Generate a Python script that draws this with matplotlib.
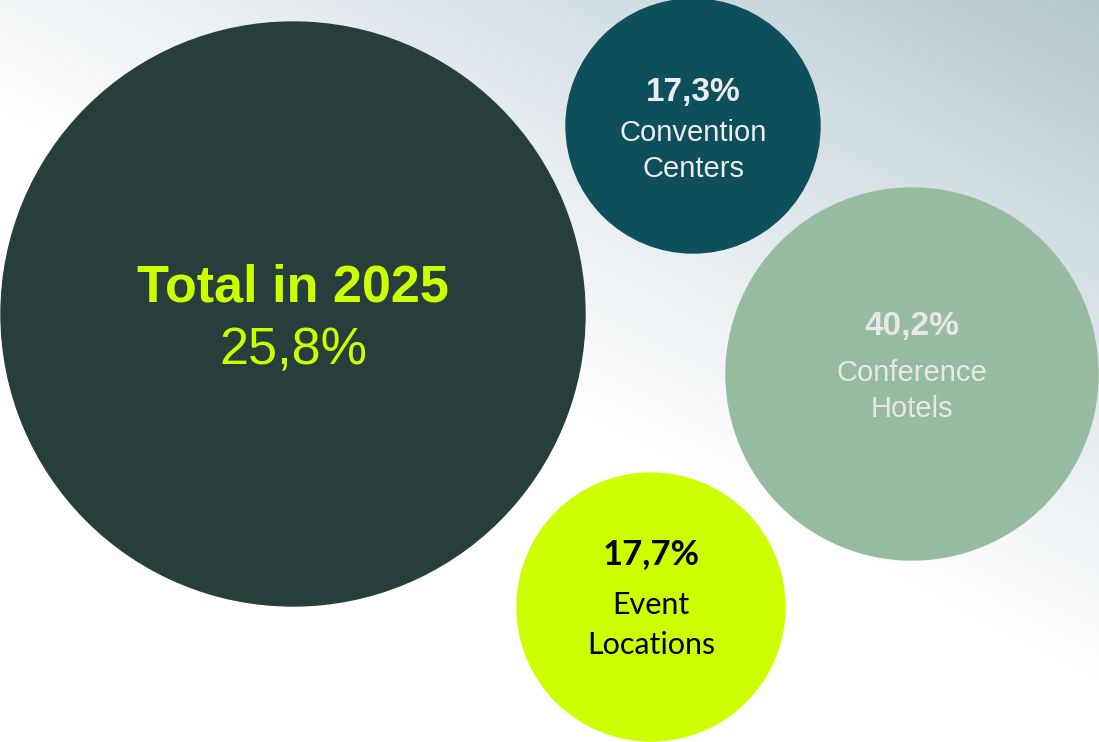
import numpy as np
import matplotlib.pyplot as plt
from matplotlib.patches import Circle
from matplotlib.colors import LinearSegmentedColormap

# data
total_label = 'Total in 2025'
total_value = '25,8%'
segments = ['Convention\nCenters', 'Conference\nHotels', 'Event\nLocations']
shares = ['17,3%', '40,2%', '17,7%']

# layout (pixel coordinates, y downwards)
W, H = 1099, 742
total_circle = (293, 314, 292)
seg_circles = [(693, 126, 127), (912, 374, 186), (651, 607, 134)]
seg_colors = ['#0E4F5C', '#97BBA1', '#CCFF00']
seg_text = ['#EDEDED', '#E8E8E8', '#000000']
seg_font = ['Liberation Sans', 'Liberation Sans', 'Lato']
pct_dy = [-33, -48, -53]
lab_dy = [25, 17, 18]
lspace = [1.38, 1.38, 1.5]

fig = plt.figure(figsize=(10.99, 7.42), dpi=100)
ax = fig.add_axes([0, 0, 1, 1])
ax.set_xlim(0, W)
ax.set_ylim(H, 0)
ax.axis('off')

# background gradient: white bottom-left to grey-teal top-right
u = np.linspace(0, 1, 400)[None, :]
v = np.linspace(1, 0, 300)[:, None]
t = np.clip((u + 1.3 * v - 1.1) / 1.2, 0, 1)
cmap = LinearSegmentedColormap.from_list('bg', ['#FFFFFF', '#DDE5EA', '#B2C9CC'])
ax.imshow(t, cmap=cmap, extent=(0, W, H, 0), aspect='auto', zorder=0, vmin=0, vmax=1)

cx, cy, r = total_circle
ax.add_patch(Circle((cx, cy), r, color='#263F3D', zorder=2))
ax.text(cx, cy - 26, total_label, ha='center', va='center', fontsize=37.5,
        fontweight='bold', color='#CCFF00', family='Liberation Sans', zorder=3)
ax.text(cx, cy + 37, total_value, ha='center', va='center', fontsize=37.5,
        color='#CCFF00', family='Liberation Sans', zorder=3)

for (x, y, rad), col, tc, fnt, share, seg, d1, d2, ls in zip(
        seg_circles, seg_colors, seg_text, seg_font, shares, segments, pct_dy, lab_dy, lspace):
    ax.add_patch(Circle((x, y), rad, color=col, zorder=2))
    ax.text(x, y + d1, share, ha='center', va='center', fontsize=24 if fnt != 'Lato' else 25,
            fontweight='bold', color=tc, family=fnt, zorder=3)
    ax.text(x, y + d2, seg, ha='center', va='center', fontsize=21 if fnt != 'Lato' else 22,
            color=tc, family=fnt, linespacing=ls, zorder=3)

fig.savefig('out.png', dpi=100)
